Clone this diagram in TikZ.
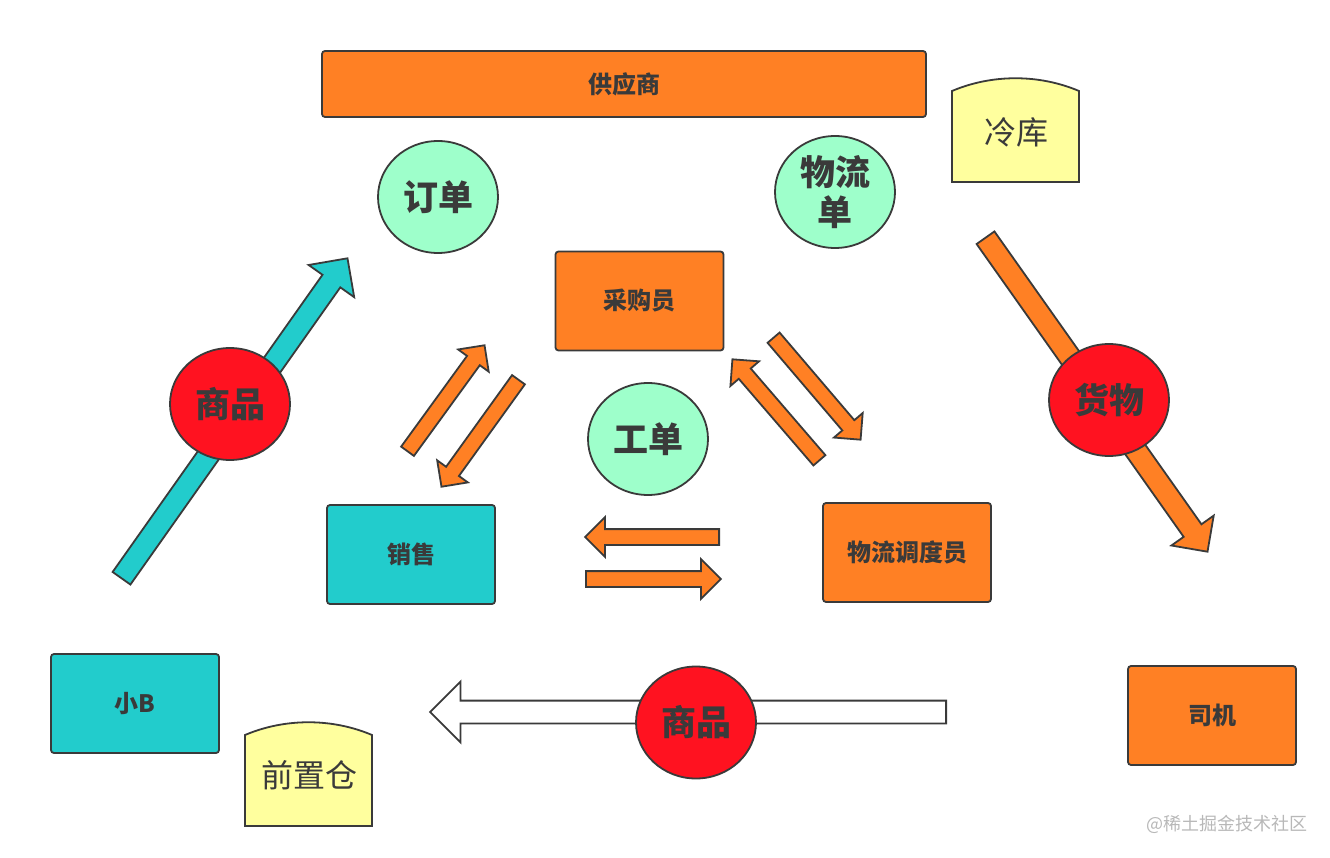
\documentclass[tikz,border=0pt]{standalone}
\usepackage{fontspec}
\setmainfont{Noto Sans CJK SC}
\usetikzlibrary{shapes.geometric,shapes.arrows}
\definecolor{boxorange}{HTML}{FF8024}
\definecolor{boxteal}{HTML}{22CCCC}
\definecolor{tagyellow}{HTML}{FFFF9E}
\definecolor{docgreen}{HTML}{9EFFCB}
\definecolor{goodsred}{HTML}{FF1220}
\definecolor{edgegrey}{HTML}{3A3A3A}
\tikzset{
    rolebox/.style={draw=edgegrey, line width=1.8pt, rounded corners=3pt, minimum width=168pt, minimum height=99pt, inner sep=0pt, text=edgegrey, font=\bfseries\fontsize{24}{28}\selectfont},
    docnode/.style={ellipse, draw=edgegrey, line width=1.8pt, minimum width=120pt, minimum height=112pt, inner sep=0pt, align=center, text=edgegrey, font=\bfseries\fontsize{35}{40}\selectfont},
    blockarrow/.style={single arrow, draw=edgegrey, line width=1.8pt, anchor=tail, inner xsep=0pt, shape border uses incircle=false},
    taglabel/.style={inner sep=0pt, text=edgegrey, font=\fontsize{32}{38}\selectfont}
}
\begin{document}
\begin{tikzpicture}[x=1pt,y=-1pt]
        \useasboundingbox (0,0) rectangle (1330,858);

        % block arrows, tail to tip
        \foreach \nm/\xa/\ya/\xb/\yb/\hw/\ext/\col in {
            tealup/121/579/347/259/10/17/boxteal,
            orangedown/985/237/1207/551/10/15/boxorange,
            salesup/407/452/484/346/7/11/boxorange,
            salesdown/519/379/442/486/7/11/boxorange,
            buyerup/820/461/733/360/7/11/boxorange,
            buyerdown/773/337/860/439/7/11/boxorange,
            leftflow/720/537/586/537/7/12/boxorange,
            rightflow/585/579/720/579/7/12/boxorange,
            whitegoods/947/712/431/712/10.5/19/white}
        {
            \pgfmathsetmacro{\len}{veclen(\xb-\xa,\yb-\ya)}
            \pgfmathsetmacro{\ang}{atan2(\ya-\yb,\xb-\xa)}
            \node[blockarrow, fill=\col, rotate=\ang, minimum height=\len pt, inner ysep=\hw pt, single arrow head extend=\ext pt] (\nm) at (\xa,\ya) {};
        }

        \node[rolebox, fill=boxorange, minimum width=604pt, minimum height=66pt] (supplier) at (624,84) {供应商};
        \node[rolebox, fill=boxorange] (buyer) at (639.5,301) {采购员};
        \node[rolebox, fill=boxteal] (sales) at (411,554.5) {销售};
        \node[rolebox, fill=boxorange] (dispatcher) at (907,552.5) {物流调度员};
        \node[rolebox, fill=boxteal] (smallb) at (135,703.5) {小B};
        \node[rolebox, fill=boxorange] (driver) at (1212,715.5) {司机};

        \node[docnode, fill=docgreen] (order) at (438,197) {订单};
        \node[docnode, fill=docgreen] (waybill) at (835,192) {物流\\单};
        \node[docnode, fill=docgreen] (workorder) at (648,439) {工单};
        \node[docnode, fill=goodsred] (goodsleft) at (230,404) {商品};
        \node[docnode, fill=goodsred] (cargo) at (1109,400) {货物};
        \node[docnode, fill=goodsred] (goodsbottom) at (696,722.5) {商品};

        % storage tags
        \foreach \x/\y in {952/182, 245/826}
        {
            \draw[draw=edgegrey, fill=tagyellow, line width=1.8pt] (\x,\y) -- ++(0,-91) .. controls +(40,-17) and +(-40,-17) .. ++(127,0) -- ++(0,91) -- cycle;
        }
        \node[taglabel] (coldstore) at (1016,132) {冷库};
        \node[taglabel] (frontstore) at (309,775) {前置仓};

        \node[inner sep=0pt, text=black!28, font=\fontsize{18}{22}\selectfont] (mark) at (1227,824) {@稀土掘金技术社区};
\end{tikzpicture}
\end{document}
